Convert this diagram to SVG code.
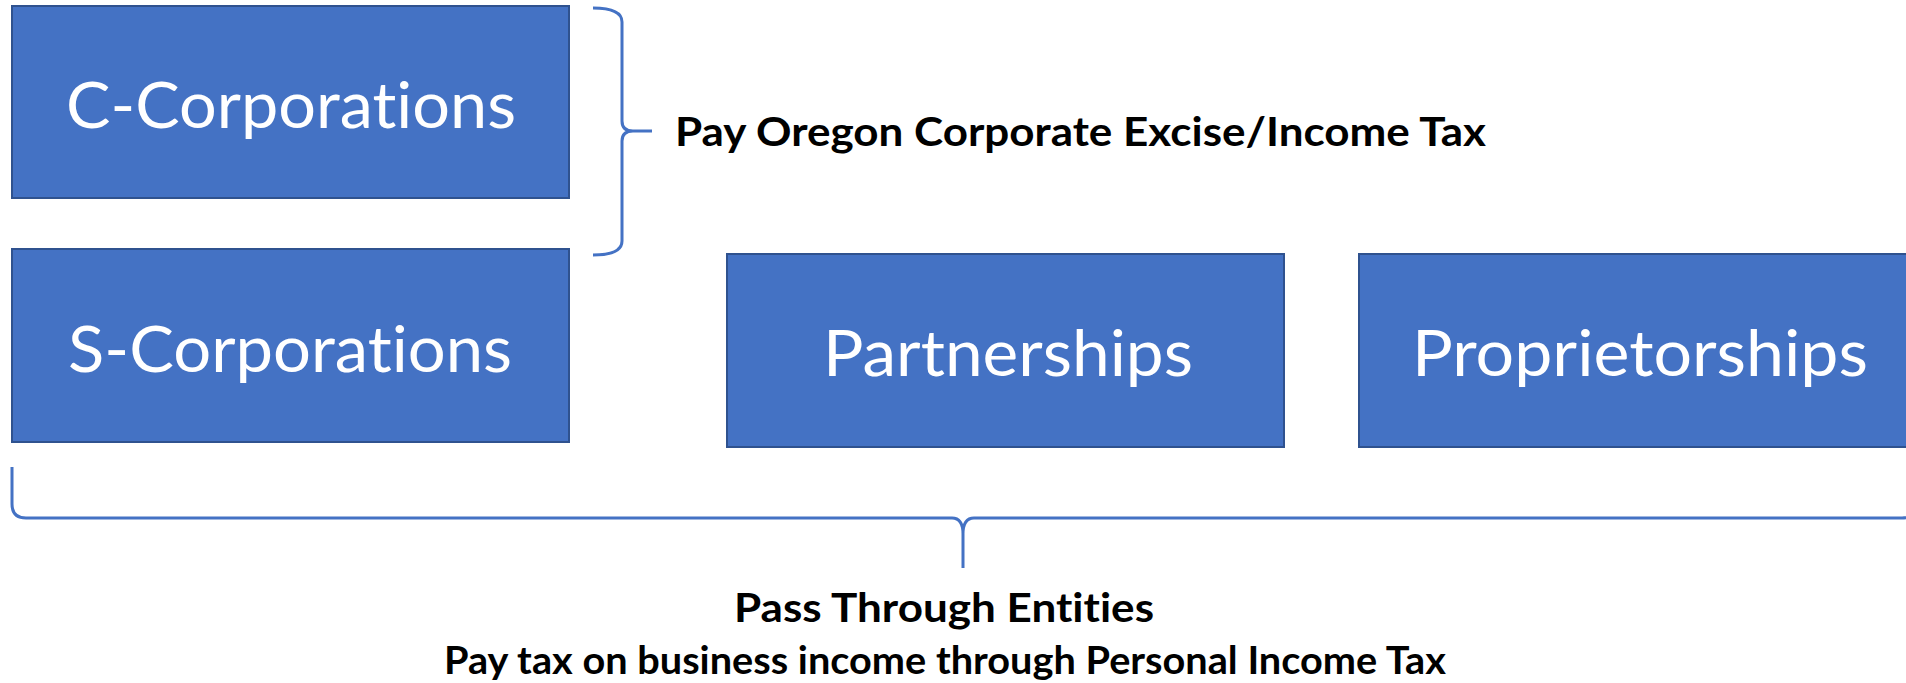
<svg xmlns="http://www.w3.org/2000/svg" width="1906" height="683" viewBox="0 0 1906 683">
  <style>
    text { font-variant-ligatures: none; font-feature-settings: "liga" 0, "clig" 0, "dlig" 0, "calt" 0; }
    .box { fill: #4472C4; stroke: #2F528F; stroke-width: 2; }
    .boxlabel { font-family: Lato, "Open Sans", "Liberation Sans", sans-serif; font-size: 63px; fill: #FFFFFF; }
    /* separate shaping run so the t and i stay as two glyphs */
    .split { fill: #FEFEFE; }
    .brace { fill: none; stroke: #4472C4; stroke-width: 3; stroke-linejoin: round; stroke-linecap: butt; }
    .note { font-family: Lato, "Open Sans", "Liberation Sans", sans-serif; font-weight: bold; fill: #000000; }
    .note .split { fill: #010101; }
  </style>
  <rect width="1906" height="683" fill="#FFFFFF"/>

  <g id="c-corporations">
    <rect class="box" x="12" y="6" width="557" height="192"/>
    <text class="boxlabel" x="66" y="128" textLength="450" lengthAdjust="spacingAndGlyphs">C-Corporat<tspan class="split">ions</tspan></text>
  </g>

  <g id="s-corporations">
    <rect class="box" x="12" y="249" width="557" height="193"/>
    <text class="boxlabel" x="68" y="372" textLength="444" lengthAdjust="spacingAndGlyphs">S-Corporat<tspan class="split">ions</tspan></text>
  </g>

  <g id="partnerships">
    <rect class="box" x="727" y="254" width="557" height="193"/>
    <text class="boxlabel" x="823" y="376" textLength="370" lengthAdjust="spacingAndGlyphs">Partnerships</text>
  </g>

  <g id="proprietorships">
    <rect class="box" x="1359" y="254" width="557" height="193"/>
    <text class="boxlabel" x="1412" y="376" textLength="456" lengthAdjust="spacingAndGlyphs">Proprietorships</text>
  </g>

  <g id="connectors">
    <!-- right-facing brace around the C-Corporations box -->
    <path class="brace" d="M 593 8 Q 622 8 622 22 L 622 121 Q 622 131 633 131 L 652 131 M 633 131 Q 622 131 622 141 L 622 241 Q 622 255 593 255"/>
    <!-- downward brace under the pass-through entities -->
    <path class="brace" d="M 12 467 L 12 504 Q 12 518 26 518 L 952 518 Q 963 518 963 534 L 963 568 M 963 534 Q 963 518 974 518 L 1902 518 Q 1916 518 1916 504 L 1916 467"/>
  </g>

  <g id="corporate-tax-label">
    <text class="note" x="675" y="146" font-size="41" textLength="811" lengthAdjust="spacingAndGlyphs">Pay Oregon Corporate Excise/Income Tax</text>
  </g>

  <g id="pass-through-label">
    <text class="note" x="734" y="622" font-size="40" textLength="420" lengthAdjust="spacingAndGlyphs">Pass Through Entit<tspan class="split">ies</tspan></text>
    <text class="note" x="444" y="674" font-size="39" textLength="1002" lengthAdjust="spacingAndGlyphs">Pay tax on business income through Personal Income Tax</text>
  </g>
</svg>
